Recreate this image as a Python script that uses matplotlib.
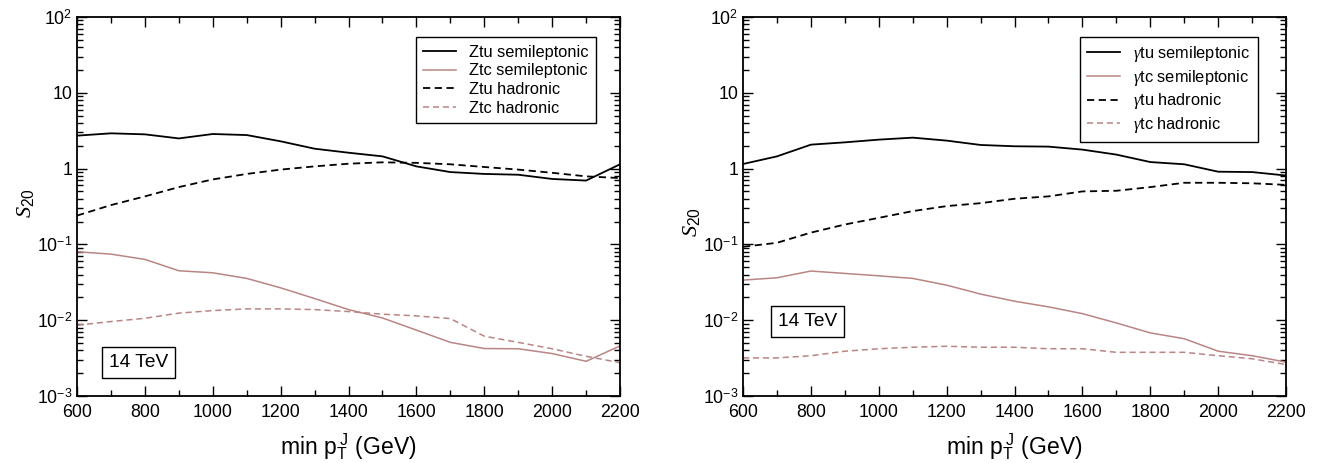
import matplotlib

matplotlib.use("Agg")
import matplotlib.pyplot as plt
from matplotlib.ticker import FixedLocator, FuncFormatter, LogLocator, MultipleLocator, NullFormatter

plt.rcParams["font.family"] = ["Liberation Sans", "DejaVu Sans"]
plt.rcParams["mathtext.fontset"] = "custom"
plt.rcParams["mathtext.rm"] = "Liberation Sans"
plt.rcParams["mathtext.it"] = "Liberation Serif:italic"

PINK = "#b98585"

pt_min = [600, 700, 800, 900, 1000, 1100, 1200, 1300, 1400, 1500,
          1600, 1700, 1800, 1900, 2000, 2100, 2200]

# Z panel
ztu_semi = [2.72, 2.92, 2.83, 2.50, 2.86, 2.77, 2.29, 1.83, 1.62, 1.45,
            1.07, 0.90, 0.85, 0.83, 0.73, 0.695, 1.14]
ztc_semi = [0.080, 0.0744, 0.0634, 0.0449, 0.0422, 0.0356, 0.0267, 0.0193, 0.0138, 0.0107,
            0.0074, 0.0051, 0.00423, 0.0042, 0.00363, 0.00287, 0.00458]
ztu_had = [0.24, 0.33, 0.43, 0.57, 0.72, 0.85, 0.97, 1.07, 1.16, 1.21,
           1.19, 1.14, 1.05, 0.97, 0.88, 0.79, 0.75]
ztc_had = [0.0086, 0.0096, 0.0106, 0.0124, 0.0134, 0.0141, 0.0141, 0.0138, 0.0130, 0.0120,
           0.0114, 0.0105, 0.00615, 0.0051, 0.0042, 0.00334, 0.00275]

# photon panel
gtu_semi = [1.15, 1.45, 2.07, 2.22, 2.41, 2.56, 2.34, 2.05, 1.97, 1.95,
            1.78, 1.53, 1.22, 1.14, 0.91, 0.90, 0.81]
gtc_semi = [0.0338, 0.0363, 0.0445, 0.0414, 0.0385, 0.0356, 0.029, 0.0221, 0.0178, 0.015,
            0.0122, 0.0092, 0.0068, 0.0057, 0.0039, 0.0034, 0.0028]
gtu_had = [0.093, 0.105, 0.143, 0.183, 0.224, 0.275, 0.32, 0.35, 0.40, 0.43,
           0.50, 0.51, 0.57, 0.65, 0.65, 0.64, 0.61]
gtc_had = [0.00318, 0.00318, 0.0034, 0.0039, 0.0042, 0.0044, 0.00453, 0.0044, 0.0044, 0.0042,
           0.0042, 0.00377, 0.00377, 0.00377, 0.0034, 0.0031, 0.0026]

y_tick_labels = {1e-3: r"10$^{\mathregular{-3}}$", 1e-2: r"10$^{\mathregular{-2}}$",
                 1e-1: r"10$^{\mathregular{-1}}$", 1.0: "1", 10.0: "10",
                 100.0: r"10$^{\mathregular{2}}$"}


def _ylab(v, pos):
    for k, s in y_tick_labels.items():
        if abs(v / k - 1) < 1e-6:
            return s
    return ""


def _style(ax, boson, series, leg_xy, box_xy, ylab_y):
    semi_u, semi_c, had_u, had_c = series
    ax.plot(pt_min, semi_u, color="black", lw=1.3, label=f"{boson}tu semileptonic")
    ax.plot(pt_min, semi_c, color=PINK, lw=1.1, label=f"{boson}tc semileptonic")
    ax.plot(pt_min, had_u, color="black", lw=1.3, ls=(0, (4, 2.5)), label=f"{boson}tu hadronic")
    ax.plot(pt_min, had_c, color=PINK, lw=1.1, ls=(0, (4, 2.5)), label=f"{boson}tc hadronic")
    ax.set_yscale("log")
    ax.set_xlim(600, 2200)
    ax.set_ylim(1e-3, 1e2)
    ax.xaxis.set_major_locator(MultipleLocator(200))
    ax.xaxis.set_minor_locator(MultipleLocator(100))
    ax.yaxis.set_major_locator(FixedLocator(list(y_tick_labels.keys())))
    ax.yaxis.set_minor_locator(LogLocator(base=10, subs=range(2, 10)))
    ax.yaxis.set_major_formatter(FuncFormatter(_ylab))
    ax.yaxis.set_minor_formatter(NullFormatter())
    ax.tick_params(which="both", direction="in", top=True, right=True, labelsize=12.8)
    ax.tick_params(which="major", length=7, width=1)
    ax.tick_params(which="minor", length=4, width=1)
    ax.tick_params(axis="x", pad=6)
    for s in ax.spines.values():
        s.set_linewidth(1.3)
    ax.set_xlabel(r"min p$_{\mathregular{T}}^{\mathregular{\ J}}$ (GeV)", fontsize=16.5, labelpad=7)
    ax.set_ylabel(r"$S_{\mathregular{20}}$", fontsize=16, labelpad=4)
    ax.yaxis.set_label_coords(-0.075, ylab_y)
    leg = ax.legend(loc="upper right", bbox_to_anchor=leg_xy, fontsize=11.8,
                    handlelength=2.0, handletextpad=0.8, labelspacing=0.22,
                    borderpad=0.45, borderaxespad=0, fancybox=False,
                    edgecolor="black", framealpha=1)
    leg.get_frame().set_linewidth(1.0)
    ax.text(box_xy[0], box_xy[1], "14 TeV", transform=ax.transAxes, fontsize=13.8,
            ha="center", va="center",
            bbox=dict(boxstyle="square,pad=0.35", fc="white", ec="black", lw=1.0))


fig = plt.figure(figsize=(13.17, 4.63), dpi=100)
ax1 = fig.add_axes([0.0585, 0.1447, 0.4123, 0.8186])
ax2 = fig.add_axes([0.5642, 0.1447, 0.4123, 0.8186])

_style(ax1, "Z", (ztu_semi, ztc_semi, ztu_had, ztc_had),
       (0.956, 0.946), (0.113, 0.088), 0.51)
_style(ax2, r"$\gamma$", (gtu_semi, gtc_semi, gtu_had, gtc_had),
       (0.948, 0.948), (0.119, 0.197), 0.46)

fig.savefig("out.png", dpi=100)
plt.close(fig)
